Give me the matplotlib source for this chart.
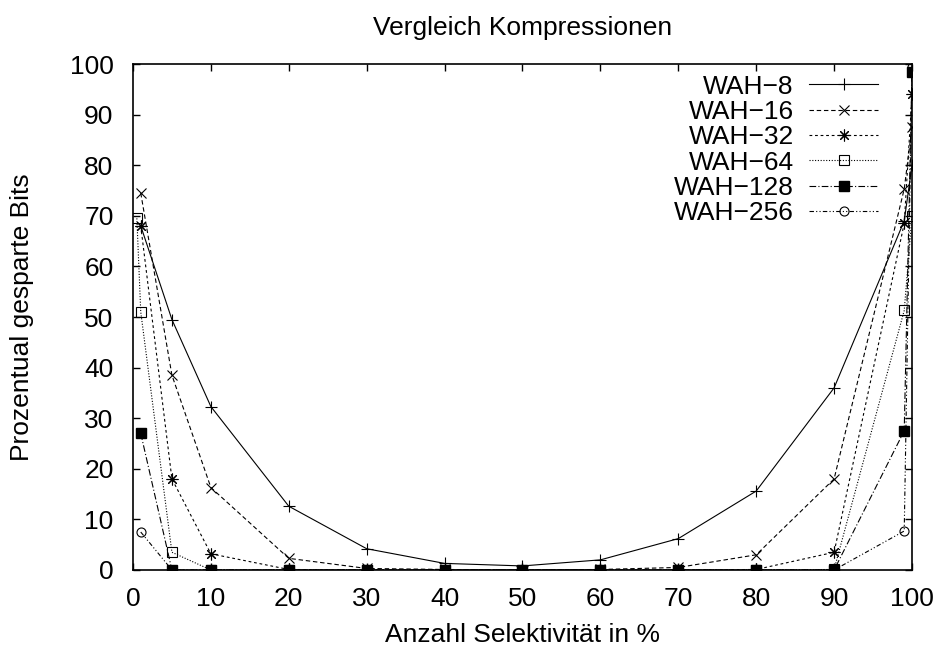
import matplotlib
matplotlib.use('Agg')
import matplotlib.pyplot as plt

plt.rcParams['font.family'] = ['Liberation Sans', 'DejaVu Sans']

# Selektivitaet in %
x_werte = [1, 5, 10, 20, 30, 40, 50, 60, 70, 80, 90, 99, 100]
x_werte_64 = [0.5, 1, 5, 10, 20, 30, 40, 50, 60, 70, 80, 90, 99, 100]

wah_8 = [68, 49.5, 32.3, 12.6, 4.2, 1.3, 0.8, 2.0, 6.2, 15.6, 36.0, 69.0, 80.0]
wah_16 = [74.5, 38.5, 16.3, 2.3, 0.3, 0.1, 0.0, 0.1, 0.5, 3.0, 18.0, 75.3, 87.5]
wah_32 = [68, 18.0, 3.2, 0.1, 0.0, 0.0, 0.0, 0.0, 0.0, 0.1, 3.5, 68.5, 94.0]
wah_64 = [69.5, 51.0, 3.5, 0.0, 0.0, 0.0, 0.0, 0.0, 0.0, 0.0, 0.0, 0.1, 51.3, 70.0]
wah_128 = [27.0, 0.0, 0.0, 0.0, 0.0, 0.0, 0.0, 0.0, 0.0, 0.0, 0.0, 27.5, 98.5]
wah_256 = [7.5, 0.0, 0.0, 0.0, 0.0, 0.0, 0.0, 0.0, 0.0, 0.0, 0.0, 7.7, 99.5]

fig = plt.figure(figsize=(9.41, 6.48), dpi=100)
ax = fig.add_axes([0.1413, 0.1204, 0.8279, 0.7808])

fs = 19
lw = 0.8
ax.plot(x_werte, wah_8, color='black', lw=lw, linestyle='-', marker='+',
        markersize=8.5, markeredgewidth=0.8, label='WAH\u22128')
ax.plot(x_werte, wah_16, color='black', lw=lw, linestyle=(0, (4, 2.5)), marker='x',
        markersize=7, markeredgewidth=0.8, label='WAH\u221216')
ax.plot(x_werte, wah_32, color='black', lw=lw, linestyle=(0, (2.5, 2.5)), marker=(8, 2, 0),
        markersize=8.5, markeredgewidth=0.8, label='WAH\u221232')
ax.plot(x_werte_64, wah_64, color='black', lw=lw, linestyle=(0, (1, 1.5)), marker='s',
        markersize=6.5, markerfacecolor='none', markeredgewidth=0.8, label='WAH\u221264')
ax.plot(x_werte, wah_128, color='black', lw=lw, linestyle=(0, (6, 2, 1, 2)), marker='s',
        markersize=7, markerfacecolor='black', label='WAH\u2212128')
ax.plot(x_werte, wah_256, color='black', lw=lw, linestyle=(0, (4, 2, 1, 2, 1, 2)), marker='o',
        markersize=6.5, markerfacecolor='none', markeredgewidth=0.8, label='WAH\u2212256')

ax.set_xlim(0, 100)
ax.set_ylim(0, 100)
ax.set_xticks(range(0, 101, 10))
ax.set_yticks(range(0, 101, 10))
ax.tick_params(direction='in', length=5, width=1, top=True, right=True,
               labelsize=fs)
ax.tick_params(axis='y', pad=14)
ax.tick_params(axis='x', pad=12)
for s in ax.spines.values():
    s.set_linewidth(1.2)

ax.set_title('Vergleich Kompressionen', fontsize=fs, pad=21)
ax.set_xlabel('Anzahl Selektivität in %', fontsize=fs, labelpad=9)
ax.set_ylabel('Prozentual gesparte Bits', fontsize=fs, labelpad=26)

ax.legend(loc='upper right', frameon=False, markerfirst=False, fontsize=fs,
          handlelength=2.6, handletextpad=0.6, labelspacing=0.05,
          borderaxespad=0.0, bbox_to_anchor=(0.97, 1.0))

fig.savefig('out.png', dpi=100)
